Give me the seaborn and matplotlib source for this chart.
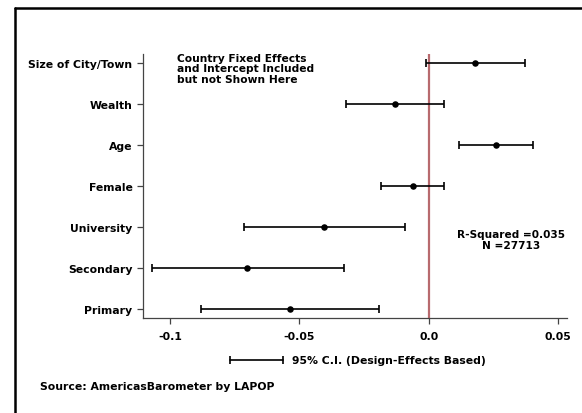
import numpy as np
import pandas as pd
import matplotlib
matplotlib.use('Agg')
import matplotlib.pyplot as plt
import seaborn as sns
from matplotlib.lines import Line2D

# Regression coefficients and 95% CIs
variables = ['Size of City/Town', 'Wealth', 'Age', 'Female',
             'University', 'Secondary', 'Primary']
coef = [0.0179, -0.0129, 0.0260, -0.0061, -0.0406, -0.0703, -0.0535]
ci_low = [-0.0010, -0.0319, 0.0118, -0.0183, -0.0716, -0.1069, -0.0880]
ci_high = [0.0371, 0.0061, 0.0402, 0.0061, -0.0092, -0.0328, -0.0193]
x_ticks = [-0.1, -0.05, 0.0, 0.05]
x_ticklabels = ['-0.1', '-0.05', '0.0', '0.05']

df = pd.DataFrame({'variable': variables, 'coef': coef,
                   'low': ci_low, 'high': ci_high})

sns.set_style('white')
plt.rcParams['font.family'] = ['DejaVu Sans']
plt.rcParams['font.weight'] = 'bold'
plt.rcParams['text.color'] = 'black'
plt.rcParams['xtick.color'] = '#444444'
plt.rcParams['ytick.color'] = '#444444'
plt.rcParams['xtick.labelcolor'] = 'black'
plt.rcParams['ytick.labelcolor'] = 'black'

fig = plt.figure(figsize=(5.82, 4.14), dpi=100)
ax = fig.add_axes([0.2457, 0.2295, 0.7285, 0.6376])

ypos = np.arange(len(df))
ax.axvline(0, color='#b86a6e', lw=1.6, zorder=1)
ax.errorbar(df['coef'], ypos,
            xerr=[df['coef'] - df['low'], df['high'] - df['coef']],
            fmt='none', ecolor='black', elinewidth=1.2, capsize=3.2,
            capthick=1.2, zorder=2)
sns.scatterplot(data=df, x='coef', y=ypos, color='black', s=22,
                edgecolor='black', linewidth=0, zorder=3, ax=ax)

ax.set_ylim(len(df) - 1 + 0.22, -0.22)
ax.set_xlim(-0.1105, 0.0535)
ax.set_yticks(ypos)
ax.set_yticklabels(variables, fontsize=7.8, fontweight='bold')
ax.set_xticks(x_ticks)
ax.set_xticklabels(x_ticklabels, fontsize=7.8, fontweight='bold')
ax.set_xlabel('')
ax.set_ylabel('')
ax.tick_params(axis='both', direction='out', length=4.5, width=0.9,
               pad=3, left=True, bottom=True)
ax.tick_params(axis='x', pad=5)
for side in ['top', 'right']:
    ax.spines[side].set_visible(False)
for side in ['left', 'bottom']:
    ax.spines[side].set_color('#444444')
    ax.spines[side].set_linewidth(0.9)

ax.text(0.080, 1.005, 'Country Fixed Effects\nand Intercept Included\nbut not Shown Here',
        transform=ax.transAxes, ha='left', va='top', fontsize=7.7,
        fontweight='bold', linespacing=1.08)
ax.text(0.868, 0.297, 'R-Squared =0.035\nN =27713',
        transform=ax.transAxes, ha='center', va='center', fontsize=7.6,
        fontweight='bold', linespacing=1.08)

# legend for the confidence interval
fig.add_artist(Line2D([230 / 582, 283 / 582], [1 - 361 / 414] * 2,
                      color='black', lw=1.2, marker='|', markersize=6,
                      markeredgewidth=1.2))
fig.text(292 / 582, 1 - 361 / 414, '95% C.I. (Design-Effects Based)',
         ha='left', va='center', fontsize=7.8, fontweight='bold')
fig.text(40 / 582, 1 - 387 / 414, 'Source: AmericasBarometer by LAPOP',
         ha='left', va='center', fontsize=7.85, fontweight='bold')

# frame around the figure
fig.add_artist(Line2D([14.5 / 582, 1.0], [1 - 9 / 414] * 2,
                      color='black', lw=1.8))
fig.add_artist(Line2D([14.5 / 582] * 2, [0.0, 1 - 9 / 414],
                      color='black', lw=1.8))

fig.savefig('out.png', dpi=100)
